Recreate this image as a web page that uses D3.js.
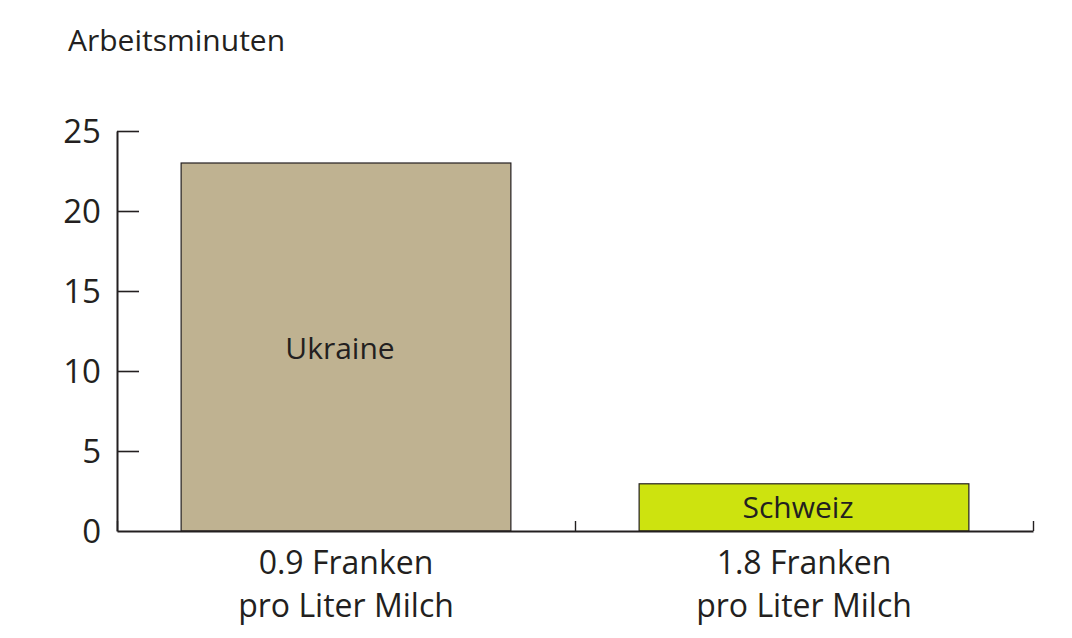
<!DOCTYPE html>
<html>
<head>
<meta charset="utf-8">
<script src="https://cdn.jsdelivr.net/npm/d3@7"></script>
<style>
	body { margin: 0; background: #fff; }
	text { font-family: "Open Sans", "Noto Sans", sans-serif; fill: #231f20; }
</style>
</head>
<body>
<div id="chart"></div>
<script>
var countries = ["Ukraine", "Schweiz"];
var priceLines = [["0.9 Franken", "pro Liter Milch"], ["1.8 Franken", "pro Liter Milch"]];
var minutes = [23, 2.95];
var barColors = ["#bfb291", "#cde30f"];
var yTicks = [0, 5, 10, 15, 20, 25];

var svgWidth = 1072;
var svgHeight = 638;

var margin = {
	top: 131,
	bottom: 107,
	right: 39,
	left: 117
};

var width = svgWidth - margin.left - margin.right;
var height = svgHeight - margin.top - margin.bottom;

var svg = d3.select("#chart")
	.append("svg")
	.attr("width", svgWidth)
	.attr("height", svgHeight);

var chartGroup = svg.append("g")
	.attr("transform", `translate(${margin.left}, ${margin.top})`);

var xBand = d3.scaleBand()
	.domain(countries)
	.range([0, width])
	.paddingInner(0.28)
	.paddingOuter(0.14);

// separators between the two groups sit on the band edges
var xEdge = d3.scaleLinear()
	.domain([0, countries.length])
	.range([0, width]);

var yLinearScale = d3.scaleLinear()
	.domain([0, 25])
	.range([height, 0]);

// bars
chartGroup.selectAll("rect.bar")
	.data(minutes)
	.enter()
	.append("rect")
	.attr("class", "bar")
	.attr("x", (d, i) => xBand(countries[i]))
	.attr("y", d => yLinearScale(d))
	.attr("width", xBand.bandwidth())
	.attr("height", d => height - yLinearScale(d))
	.attr("fill", (d, i) => barColors[i])
	.attr("stroke", "#231f20")
	.attr("stroke-width", 1.2);

// labels inside bars (sit a little left of centre in the original)
chartGroup.selectAll("text.barLabel")
	.data(minutes)
	.enter()
	.append("text")
	.attr("class", "barLabel")
	.attr("x", (d, i) => xBand(countries[i]) + xBand.bandwidth() / 2 - 6)
	.attr("y", (d, i) => i === 0 ? yLinearScale(11.4) : yLinearScale(d / 2))
	.attr("dy", "0.36em")
	.attr("text-anchor", "middle")
	.style("font-size", "30px")
	.text((d, i) => countries[i]);

// y axis, ticks pointing into the plot
var leftAxis = d3.axisLeft(yLinearScale)
	.tickValues(yTicks)
	.tickSize(-22)
	.tickSizeOuter(0)
	.tickPadding(16);

var yAxis = chartGroup.append("g")
	.call(leftAxis);

yAxis.select(".domain")
	.attr("stroke", "#231f20")
	.attr("stroke-width", 2);
yAxis.selectAll(".tick line")
	.attr("stroke", "#231f20")
	.attr("stroke-width", 1.6);
yAxis.selectAll(".tick")
	.filter(d => d === 0)
	.select("line").remove();
yAxis.selectAll("text")
	.style("font-size", "33px")
	.attr("fill", "#231f20")
	.attr("dy", "0.36em");

// x axis line with upward ticks on group edges
var bottomAxis = d3.axisBottom(xEdge)
	.tickValues(d3.range(countries.length + 1))
	.tickSize(-10)
	.tickSizeOuter(0)
	.tickFormat("");

var xAxis = chartGroup.append("g")
	.attr("transform", `translate(0, ${height})`)
	.call(bottomAxis);

xAxis.select(".domain")
	.attr("stroke", "#231f20")
	.attr("stroke-width", 2);
xAxis.selectAll(".tick line")
	.attr("stroke", "#231f20")
	.attr("stroke-width", 1.4);

// category labels on two lines
var catAxis = d3.axisBottom(xBand)
	.tickSize(0)
	.tickFormat("");

var catGroup = chartGroup.append("g")
	.attr("transform", `translate(0, ${height})`)
	.call(catAxis);
catGroup.select(".domain").remove();

catGroup.selectAll(".tick")
	.each(function(d, i) {
		var t = d3.select(this).append("text")
			.attr("text-anchor", "middle")
			.style("font-size", "32px");
		priceLines[i].forEach(function(line, j) {
			t.append("tspan")
				.attr("x", 0)
				.attr("y", 43 + j * 43)
				.text(line);
		});
	});

// y axis title
svg.append("text")
	.attr("x", 68)
	.attr("y", 51)
	.style("font-size", "30px")
	.text("Arbeitsminuten");
</script>
</body>
</html>
